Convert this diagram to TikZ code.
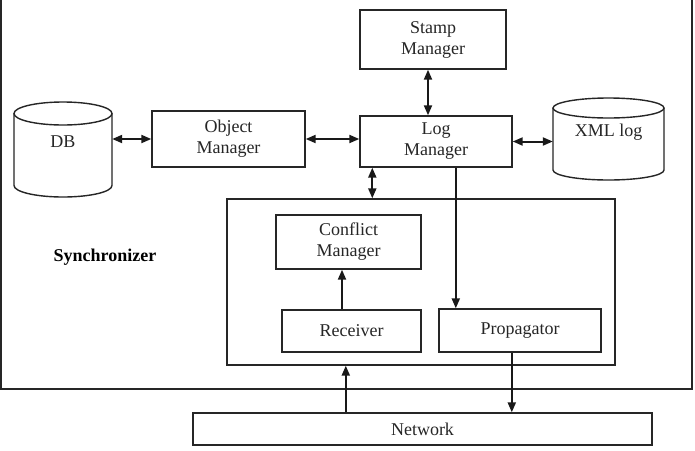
\documentclass[tikz,border=0pt]{standalone}
\usepackage{fontspec}
\setmainfont{Liberation Serif}
\usetikzlibrary{arrows.meta}
\begin{document}
\begin{tikzpicture}[x=1pt,y=-1pt,
  box/.style={draw=black!85, line width=1.4pt, inner sep=0pt, align=center,
    font=\fontsize{18}{21}\selectfont, text=black!85},
  ghost/.style={inner sep=0pt},
  lbl/.style={inner sep=0pt, font=\fontsize{18}{21}\selectfont, text=black!85},
  conn/.style={line width=2pt, draw=black!90, -{Triangle[length=10pt,width=8pt]}},
  dconn/.style={line width=2pt, draw=black!90, {Triangle[length=10pt,width=8pt]}-{Triangle[length=10pt,width=8pt]}},
  cyl/.style={draw=black!85, line width=1.4pt}]
\useasboundingbox (0,0) rectangle (695,450);
\fill[white] (0,0) rectangle (695,450);
\begin{scope}
  \clip (0,0) rectangle (695,450);
  \draw[black!85, line width=1.5pt] (1,-3) rectangle (692,389);
\end{scope}
\node[font=\bfseries\fontsize{18}{21}\selectfont, inner sep=0pt] (sync) at (105,257) {Synchronizer};

% boxes
\node[box, minimum width=146pt, minimum height=59pt] (stamp) at (433,39.5) {Stamp\\Manager};
\node[box, minimum width=152pt, minimum height=51pt] (log) at (436,141.5) {Log\\Manager};
\node[box, minimum width=153pt, minimum height=56pt] (obj) at (228.5,139) {Object\\Manager};
\node[box, minimum width=388pt, minimum height=166pt] (inner) at (421,282) {};
\node[box, minimum width=145pt, minimum height=54pt] (conf) at (348.5,242) {Conflict\\Manager};
\node[box, minimum width=139pt, minimum height=42pt] (recv) at (351.5,331) {Receiver};
\node[box, minimum width=162pt, minimum height=43pt] (prop) at (520,330.5) {Propagator};
\node[box, minimum width=459pt, minimum height=32pt] (net) at (422.5,429) {Network};

% DB cylinder
\node[ghost, minimum width=98pt, minimum height=95pt] (db) at (63,150) {};
\draw[cyl] (14,113.5) -- (14,185.5) arc[start angle=180, end angle=360, x radius=49pt, y radius=11.5pt] -- (112,113.5);
\draw[cyl] (63,113.5) ellipse [x radius=49pt, y radius=11.5pt];
\node[lbl] (dbl) at (63,142) {DB};

% XML log cylinder
\node[ghost, minimum width=111pt, minimum height=82pt] (xml) at (608.5,139) {};
\draw[cyl] (553,108) -- (553,170) arc[start angle=180, end angle=360, x radius=55.5pt, y radius=10pt] -- (664,108);
\draw[cyl] (608.5,108) ellipse [x radius=55.5pt, y radius=10pt];
\node[lbl] (xmll) at (608.5,132) {XML log};

% connectors
\draw[dconn] (obj.west -| db.east) -- (obj.west);
\draw[dconn] (obj.east) -- (obj.east -| log.west);
\draw[dconn] (log.east) -- (log.east -| xml.west);
\draw[dconn] ([xshift=-5pt]stamp.south) -- ([xshift=-5pt]stamp.south |- log.north);
\draw[dconn] ([xshift=13pt]log.south west) -- ([xshift=13pt]log.south west |- inner.north);
\draw[conn] ([xshift=96.5pt]log.south west) -- ([xshift=96.5pt]log.south west |- prop.north);
\draw[conn] ([xshift=-9.5pt]recv.north) -- ([xshift=-9.5pt]recv.north |- conf.south);
\draw[conn] ([xshift=153.5pt]net.north west) -- ([xshift=153.5pt]net.north west |- inner.south);
\draw[conn] ([xshift=73.5pt]prop.south west) -- ([xshift=73.5pt]prop.south west |- net.north);
\end{tikzpicture}
\end{document}
